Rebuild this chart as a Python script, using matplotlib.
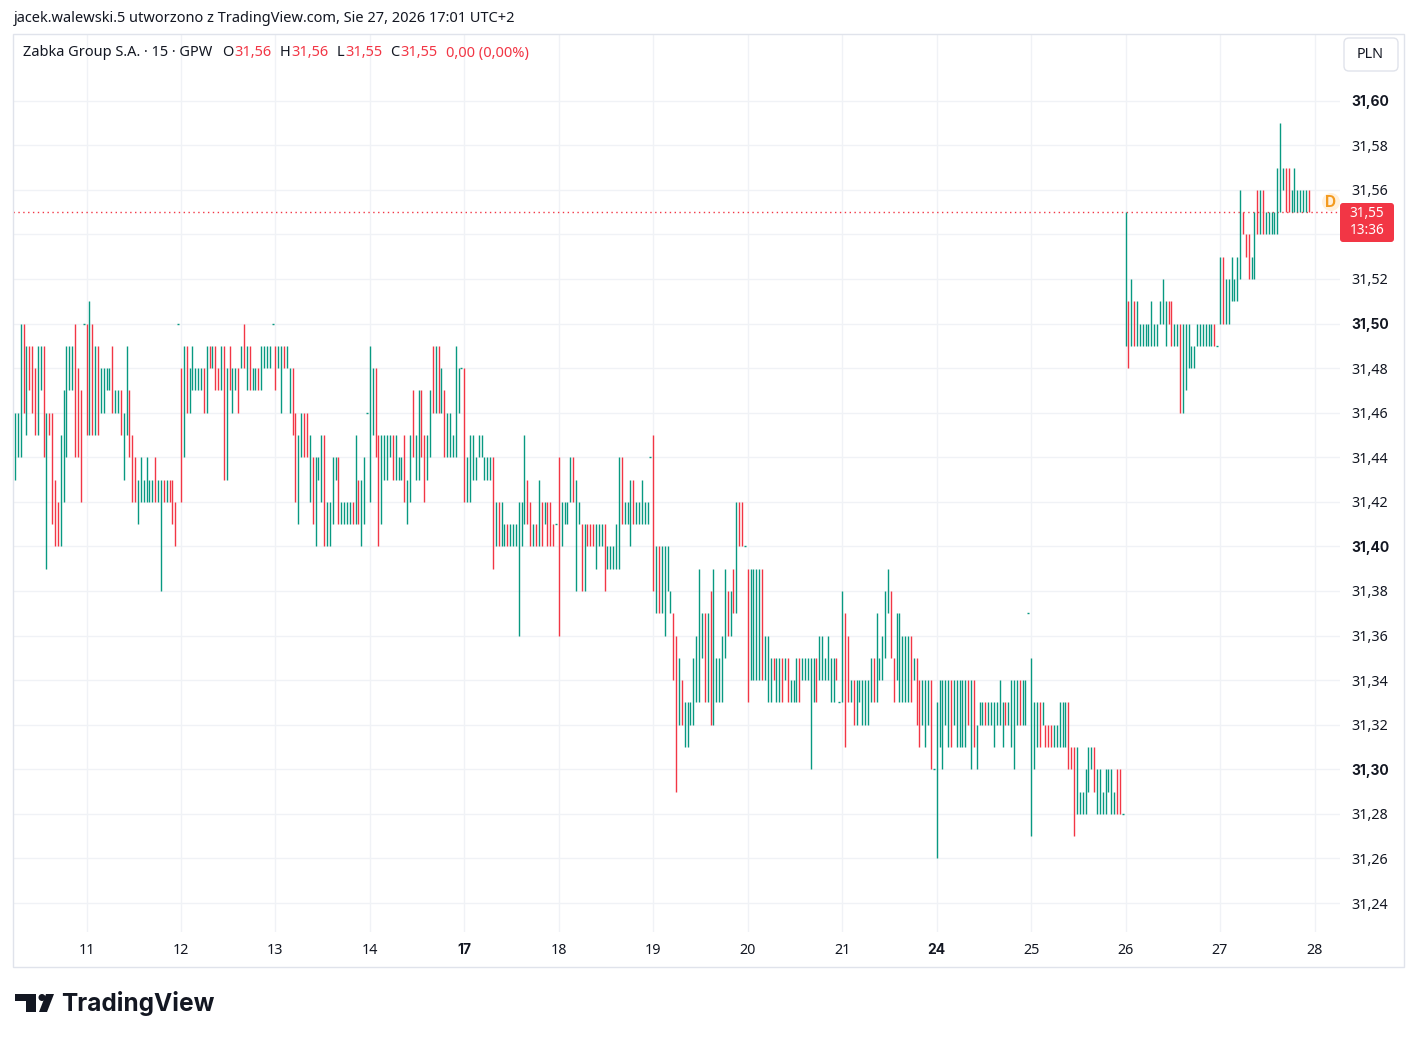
import matplotlib
matplotlib.use('Agg')
import matplotlib.pyplot as plt
from matplotlib.patches import Rectangle, FancyBboxPatch, Circle, Polygon
from matplotlib.transforms import IdentityTransform

plt.rcParams['font.family'] = ['Noto Sans', 'DejaVu Sans']

W, H = 1417, 1042
UP, DOWN = '#089981', '#f23645'
GRID = '#f0f2f6'
INK = '#131722'
BOLD_FONT = ['Inter', 'DejaVu Sans']

# Zabka Group S.A., 15 min bars on GPW.  prices in grosze above 31 zl
BASE = 31.0
SESSION = 33  # bars per session, the last one is the closing auction
days = ['10', '11', '12', '13', '14', '17', '18', '19', '20', '21', '24', '25', '26', '27', '28']
first_bar = [8, 0, 0, 0, 0, 0, 0, 0, 0, 0, 0, 0, 0, 0]

highs = [
    [46, 46, 50, 50, 49, 49, 49, 48, 49, 49, 49, 46, 46, 46, 43, 42, 45, 47, 49, 49, 49, 50, 48, 47, 50],
    [50, 51, 50, 49, 49, 48, 48, 48, 48, 49, 47, 47, 47, 46, 49, 47, 45, 44, 43, 44, 43, 44, 43, 43, 44, 43, 43, 43, 43, 43, 43, 42, 50],
    [48, 49, 49, 48, 49, 48, 48, 48, 48, 49, 49, 49, 49, 48, 49, 49, 48, 49, 48, 48, 48, 49, 50, 49, 49, 48, 48, 48, 49, 49, 49, 49, 50],
    [49, 49, 49, 49, 49, 48, 48, 46, 45, 46, 46, 46, 45, 44, 44, 44, 45, 45, 42, 42, 44, 44, 44, 42, 42, 42, 42, 42, 45, 43, 43, 44, 46],
    [49, 48, 48, 45, 45, 45, 45, 45, 45, 45, 44, 44, 45, 43, 45, 47, 45, 47, 47, 45, 45, 47, 49, 49, 49, 48, 47, 46, 46, 45, 49, 48, 48],
    [48, 44, 45, 45, 44, 45, 45, 44, 44, 44, 44, 42, 42, 42, 41, 41, 41, 41, 41, 42, 42, 45, 43, 42, 41, 41, 43, 42, 42, 42, 42, 41, 41],
    [44, 42, 42, 42, 44, 44, 43, 42, 41, 41, 41, 41, 41, 41, 41, 41, 41, 40, 40, 40, 41, 44, 44, 42, 42, 43, 43, 42, 42, 43, 42, 42, 44],
    [45, 40, 40, 40, 40, 40, 38, 37, 36, 35, 34, 33, 33, 33, 35, 36, 39, 37, 37, 37, 38, 39, 35, 35, 36, 39, 38, 38, 39, 42, 42, 42, 40],
    [39, 39, 39, 39, 39, 39, 36, 36, 35, 35, 35, 35, 35, 35, 35, 34, 34, 35, 35, 35, 35, 35, 35, 35, 35, 36, 36, 35, 36, 35, 35, 35, 33],
    [38, 37, 36, 34, 34, 34, 34, 34, 34, 34, 35, 35, 37, 35, 36, 38, 39, 38, 35, 37, 37, 36, 36, 36, 36, 35, 35, 34, 34, 34, 34, 34, 30],
    [33, 34, 34, 34, 34, 34, 34, 34, 34, 34, 34, 34, 34, 34, 32, 33, 33, 33, 33, 33, 33, 33, 34, 33, 33, 33, 34, 34, 34, 34, 34, 34, 37],
    [35, 33, 33, 33, 33, 32, 32, 32, 32, 32, 33, 33, 33, 33, 31, 31, 31, 29, 29, 30, 31, 31, 31, 30, 30, 29, 30, 30, 30, 29, 30, 30, 28],
    [55, 51, 52, 51, 51, 50, 50, 50, 50, 51, 50, 50, 51, 52, 51, 51, 51, 50, 50, 50, 50, 50, 50, 49, 49, 50, 50, 50, 50, 50, 50, 50, 49],
    [53, 53, 52, 52, 53, 52, 53, 56, 55, 54, 54, 53, 55, 56, 56, 56, 55, 55, 55, 55, 57, 59, 57, 57, 57, 56, 57, 56, 56, 56, 56, 56],
]
lows = [
    [43, 44, 44, 46, 45, 47, 46, 45, 45, 47, 44, 39, 45, 41, 40, 40, 40, 42, 44, 47, 47, 44, 44, 42, 50],
    [45, 45, 45, 45, 45, 46, 46, 47, 47, 46, 46, 46, 45, 43, 45, 44, 42, 42, 41, 42, 42, 42, 42, 42, 42, 42, 38, 42, 42, 42, 41, 40, 50],
    [42, 44, 46, 46, 47, 47, 47, 47, 46, 46, 48, 48, 47, 47, 47, 43, 43, 47, 46, 47, 46, 48, 48, 47, 47, 47, 47, 47, 47, 48, 48, 48, 50],
    [47, 48, 46, 48, 48, 46, 45, 42, 41, 44, 44, 44, 42, 41, 40, 43, 42, 40, 40, 40, 41, 43, 41, 41, 41, 41, 41, 41, 41, 41, 40, 41, 46],
    [42, 45, 44, 40, 41, 43, 43, 44, 43, 43, 43, 43, 42, 41, 42, 44, 43, 43, 44, 42, 43, 44, 46, 46, 46, 46, 44, 44, 44, 44, 44, 46, 48],
    [42, 42, 42, 43, 43, 44, 44, 43, 43, 43, 39, 40, 40, 40, 40, 40, 40, 40, 40, 36, 40, 41, 41, 40, 40, 40, 40, 40, 41, 40, 40, 40, 41],
    [36, 40, 41, 41, 42, 42, 38, 41, 38, 38, 40, 40, 40, 39, 40, 40, 38, 39, 39, 39, 39, 39, 41, 41, 41, 40, 41, 41, 41, 41, 41, 41, 44],
    [38, 37, 37, 37, 36, 38, 37, 34, 29, 32, 32, 31, 31, 32, 32, 33, 33, 35, 33, 33, 32, 32, 33, 33, 33, 35, 36, 36, 37, 37, 40, 40, 40],
    [33, 34, 34, 34, 34, 34, 34, 33, 33, 34, 33, 33, 33, 34, 33, 33, 33, 33, 33, 34, 34, 34, 30, 33, 33, 34, 34, 34, 34, 33, 33, 34, 33],
    [33, 31, 33, 33, 32, 32, 33, 32, 32, 32, 33, 33, 33, 34, 34, 35, 37, 35, 33, 34, 33, 33, 33, 33, 33, 34, 32, 31, 32, 31, 32, 30, 30],
    [26, 31, 30, 32, 31, 31, 32, 31, 31, 31, 31, 32, 30, 31, 30, 32, 32, 32, 32, 32, 31, 32, 32, 31, 32, 32, 31, 30, 32, 32, 32, 32, 37],
    [27, 30, 31, 31, 32, 31, 31, 31, 31, 31, 31, 31, 31, 30, 30, 27, 28, 28, 28, 28, 29, 30, 29, 28, 28, 28, 28, 29, 28, 28, 28, 28, 28],
    [49, 48, 49, 49, 49, 49, 49, 49, 49, 49, 49, 49, 50, 50, 49, 50, 49, 49, 49, 46, 46, 47, 48, 48, 48, 49, 49, 49, 49, 49, 49, 49, 49],
    [50, 50, 50, 50, 51, 51, 51, 52, 54, 53, 52, 52, 52, 54, 54, 54, 54, 54, 54, 54, 54, 55, 56, 55, 55, 55, 55, 55, 55, 55, 55, 55],
]
# g = close >= open, r = close < open
dirs = [
    'gggrg rrrgg rgrrr rgggg grrrg',
    'rgrgr ggggr ggrgg rrrgg ggggr ggrgr rrg',
    'rgrgg gggrg rgrrg rgrgg rgrgr ggrgg ggg',
    'rggrg grrgg rrgrg ggrgg ggrgg ggrgr ggg',
    'ggrrg gggrg ggrgg rggrr ggrgr grggg ggg',
    'rgggg ggggg rgrgg rgggg ggrrg rgrgr rrg',
    'rgggg rggrg rrrgg grggg ggrgg grggg ggg',
    'rgrgg ggrrg rgggg gggrg rgggg grgrg rrg',
    'rgggg rgggr ggrgr gggrg ggggr ggggg grg',
    'grrgr ggggg grggg ggrrg ggggr grrgg grg',
    'ggggg rgggg grgrg ggrgg ggggr ggggr ggg',
    'gggrg rrrgg gggrr rgggg ggrgg ggggg rrg',
    'grgrg ggggg ggggg rrggr ggggg ggggg grg',
    'grggg gggrr rggrg rgggg gggrr ggggg gr',
]

price_ticks = [24, 26, 28, 30, 32, 34, 36, 38, 40, 42, 44, 46, 48, 50, 52, 54, 56, 58, 60]
bold_ticks = [30, 40, 50, 60]
hidden_ticks = [54]  # covered by the last price tag
bold_days = ['17', '24']
last_price = 55
countdown = '13:36'
title = 'jacek.walewski.5 utworzono z TradingView.com, Sie 27, 2026 17:01 UTC+2'
symbol = 'Zabka Group S.A. · 15 · GPW'
legend_keys = ['O', 'H', 'L', 'C']
legend_vals = ['31,56', '31,56', '31,55', '31,55']
legend_change = '0,00 (0,00%)'


def price(v):
    return BASE + v / 100.0


def fmt(v):
    return ('%.2f' % price(v)).replace('.', ',')


def ptext(x, y, s, **kw):
    return fig.text(x / W, 1 - y / H, s, **kw)


fig = plt.figure(figsize=(W / 100, H / 100), dpi=100)
fig.patch.set_facecolor('white')

ax = fig.add_axes([13 / W, 1 - 932 / H, 1327 / W, 898 / H])
ax.set_xlim(7.32, 470.9)
ax.set_ylim(BASE + 0.2270, BASE + 0.6299)
for sp in ax.spines.values():
    sp.set_visible(False)

# bars
bx, blo, bhi, bcol = [], [], [], []
flat_x, flat_y, flat_col = [], [], []
for d in range(len(highs)):
    ds = dirs[d].replace(' ', '')
    for j, (h, l, c) in enumerate(zip(highs[d], lows[d], ds)):
        s = d * SESSION + first_bar[d] + j
        col = UP if c == 'g' else DOWN
        if h == l:
            flat_x.append(s)
            flat_y.append(price(h))
            flat_col.append(col)
        else:
            bx.append(s)
            blo.append(price(l))
            bhi.append(price(h))
            bcol.append(col)

ax.vlines(bx, blo, bhi, colors=bcol, lw=1.0, zorder=3)
ax.hlines(flat_y, [x - 0.35 for x in flat_x], [x + 0.35 for x in flat_x],
          colors=flat_col, lw=1.0, zorder=3)

# grid and axes labels
ax.set_xticks([d * SESSION for d in range(1, len(days))])
ax.set_xticklabels(days[1:])
ax.set_yticks([price(v) for v in price_ticks])
ax.set_yticklabels(['' if v in hidden_ticks else fmt(v) for v in price_ticks])
ax.yaxis.tick_right()
ax.grid(True, color=GRID, lw=1)
ax.set_axisbelow(True)
ax.tick_params(axis='both', length=0, labelsize=10.3, labelcolor=INK)
ax.tick_params(axis='x', pad=8)
ax.tick_params(axis='y', pad=8)

# last price line
ax.axhline(price(last_price), color=DOWN, lw=1, ls=(0, (1, 2.5)), zorder=2)

px = IdentityTransform()
fig.add_artist(Rectangle((12.5, H - 967), 1391.5, 933, transform=px,
                         fill=False, ec='#e0e3eb', lw=1))

# header texts
ptext(14, 19, title, va='center', ha='left', fontsize=10.5, color=INK)

fig.canvas.draw()
renderer = fig.canvas.get_renderer()

# bold round levels and week starts
for tick in ax.yaxis.get_major_ticks():
    if tick.label2.get_text() in [fmt(v) for v in bold_ticks]:
        tick.label2.set_fontweight('bold')
        tick.label2.set_family(BOLD_FONT)
        tick.label2.set_fontsize(10)
for tick in ax.xaxis.get_major_ticks():
    if tick.label1.get_text() in bold_days:
        tick.label1.set_fontweight('bold')
        tick.label1.set_family(BOLD_FONT)
        tick.label1.set_fontsize(10)


def flow(x, s, color, gap):
    t = ptext(x, 53, s, va='center', ha='left', fontsize=10.5, color=color)
    x1 = t.get_window_extent(renderer).x1
    return x1 + gap


x = flow(23, symbol, INK, 10)
for k, v in zip(legend_keys, legend_vals):
    x = flow(x, k, INK, 1)
    x = flow(x, v, DOWN, 8)
flow(x, legend_change, DOWN, 0)

# currency box
fig.add_artist(FancyBboxPatch((1344, H - 71), 54, 33, boxstyle='round,pad=0,rounding_size=5',
                              transform=px, fc='white', ec='#e0e3eb', lw=1))
ptext(1370, 54, 'PLN', va='center', ha='center', fontsize=10.3, color=INK)

# last price tag
fig.add_artist(FancyBboxPatch((1340, H - 242), 54, 39, boxstyle='round,pad=0,rounding_size=3',
                              transform=px, fc=DOWN, ec='none'))
ptext(1367, 222, fmt(last_price) + '\n' + countdown, va='center', ha='center',
      fontsize=9.8, color='white', linespacing=1.25)

# dividend badge
fig.add_artist(Circle((1331, H - 202), 9, transform=px, fc='#fff0dc', ec='none'))
ptext(1331, 202.5, 'D', va='center', ha='center', fontsize=11, fontweight='bold',
      color='#f39a1f', family=BOLD_FONT)

# TradingView logo
fig.add_artist(Polygon([(15, H - 994), (36, H - 994), (36, H - 1012), (26, H - 1012),
                        (26, H - 1001), (15, H - 1001)], closed=True, transform=px, fc=INK, ec='none'))
fig.add_artist(Circle((42, H - 997.5), 3.5, transform=px, fc=INK, ec='none'))
fig.add_artist(Polygon([(46, H - 994), (54, H - 994), (47, H - 1012), (39, H - 1012)],
                       closed=True, transform=px, fc=INK, ec='none'))
ptext(61, 1004, 'TradingView', va='center', ha='left', fontsize=17.6, fontweight='bold',
      color=INK, family=BOLD_FONT)

fig.savefig('out.png', dpi=100, facecolor='white')
